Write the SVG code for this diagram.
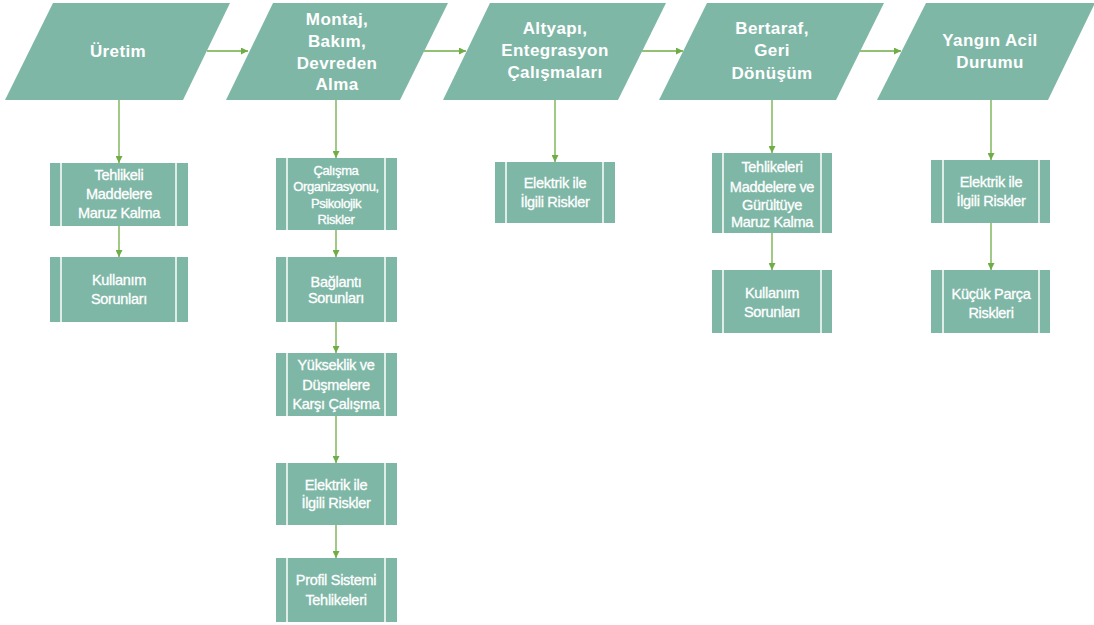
<svg xmlns="http://www.w3.org/2000/svg" width="1094" height="625" viewBox="0 0 1094 625">
<defs>
<style>
.para{fill:#7fb7a7}
.box{fill:#7fb7a7}
.bar{stroke:#ffffff;stroke-width:1.5}
.ht{font-family:"Liberation Sans",Arial,sans-serif;font-weight:bold;font-size:17px;fill:#ffffff;text-anchor:middle;letter-spacing:0.4px}
.bt{font-family:"Liberation Sans",Arial,sans-serif;font-size:14.5px;fill:#ffffff;stroke:#ffffff;stroke-width:0.3;text-anchor:middle;letter-spacing:-0.3px}
.bs{font-size:13px;letter-spacing:-0.4px}
.con{stroke:#6fad46;stroke-width:1.3;fill:none;marker-end:url(#ah)}
</style>
<marker id="ah" viewBox="0 0 10 10" refX="10" refY="5" markerWidth="7" markerHeight="7" markerUnits="userSpaceOnUse" orient="auto">
<path d="M0,0 L10,5 L0,10 Z" fill="#6fad46"/>
</marker>
</defs>
<rect width="1094" height="625" fill="#ffffff"/>
<g id="connectors">
<line class="con" x1="207" y1="51" x2="248" y2="51"/>
<line class="con" x1="424" y1="51" x2="466" y2="51"/>
<line class="con" x1="642" y1="51" x2="683" y2="51"/>
<line class="con" x1="860" y1="51" x2="901" y2="51"/>
<line class="con" x1="119" y1="100" x2="119" y2="163"/>
<line class="con" x1="119" y1="226" x2="119" y2="257"/>
<line class="con" x1="336" y1="100" x2="336" y2="158"/>
<line class="con" x1="336" y1="230" x2="336" y2="257"/>
<line class="con" x1="336" y1="322" x2="336" y2="353"/>
<line class="con" x1="336" y1="416" x2="336" y2="463"/>
<line class="con" x1="336" y1="525" x2="336" y2="558"/>
<line class="con" x1="555" y1="100" x2="555" y2="162"/>
<line class="con" x1="772" y1="100" x2="772" y2="153"/>
<line class="con" x1="772" y1="233" x2="772" y2="270"/>
<line class="con" x1="991" y1="100" x2="991" y2="160"/>
<line class="con" x1="991" y1="223" x2="991" y2="270"/>
</g>
<g id="n-uretim">
<polygon class="para" points="53,3 230,3 183,100 5,100"/>
<text class="ht" x="118" y="57">Üretim</text>
</g>
<g id="n-montaj">
<polygon class="para" points="273,3 448,3 400,100 226,100"/>
<text class="ht" x="337" y="25">Montaj,</text>
<text class="ht" x="337" y="47">Bakım,</text>
<text class="ht" x="337" y="69">Devreden</text>
<text class="ht" x="337" y="90">Alma</text>
</g>
<g id="n-altyapi">
<polygon class="para" points="490,3 666,3 618,100 443,100"/>
<text class="ht" x="555" y="34">Altyapı,</text>
<text class="ht" x="555" y="56">Entegrasyon</text>
<text class="ht" x="555" y="78">Çalışmaları</text>
</g>
<g id="n-bertaraf">
<polygon class="para" points="707,3 884,3 836,100 659,100"/>
<text class="ht" x="772" y="34">Bertaraf,</text>
<text class="ht" x="772" y="56">Geri</text>
<text class="ht" x="772" y="79">Dönüşüm</text>
</g>
<g id="n-yangin">
<polygon class="para" points="926,3 1094,3 1094,5 1048,100 877,100"/>
<text class="ht" x="990" y="46">Yangın Acil</text>
<text class="ht" x="990" y="68">Durumu</text>
</g>
<g id="n-c1b1">
<rect class="box" x="50" y="163" width="138" height="63"/>
<line class="bar" x1="61" y1="163" x2="61" y2="226"/><line class="bar" x1="176" y1="163" x2="176" y2="226"/>
<text class="bt" x="119" y="180">Tehlikeli</text>
<text class="bt" x="119" y="199">Maddelere</text>
<text class="bt" x="119" y="218">Maruz Kalma</text>
</g>
<g id="n-c1b2">
<rect class="box" x="50" y="257" width="138" height="65"/>
<line class="bar" x1="61" y1="257" x2="61" y2="322"/><line class="bar" x1="176" y1="257" x2="176" y2="322"/>
<text class="bt" x="119" y="285">Kullanım</text>
<text class="bt" x="119" y="304">Sorunları</text>
</g>
<g id="n-c2b1">
<rect class="box" x="276" y="158" width="121" height="72"/>
<line class="bar" x1="287" y1="158" x2="287" y2="230"/><line class="bar" x1="385" y1="158" x2="385" y2="230"/>
<text class="bt bs" x="336" y="175">Çalışma</text>
<text class="bt bs" x="336" y="191">Organizasyonu,</text>
<text class="bt bs" x="336" y="208">Psikolojik</text>
<text class="bt bs" x="336" y="224">Riskler</text>
</g>
<g id="n-c2b2">
<rect class="box" x="276" y="257" width="121" height="65"/>
<line class="bar" x1="287" y1="257" x2="287" y2="322"/><line class="bar" x1="385" y1="257" x2="385" y2="322"/>
<text class="bt" x="336" y="287">Bağlantı</text>
<text class="bt" x="336" y="303">Sorunları</text>
</g>
<g id="n-c2b3">
<rect class="box" x="276" y="353" width="121" height="63"/>
<line class="bar" x1="287" y1="353" x2="287" y2="416"/><line class="bar" x1="385" y1="353" x2="385" y2="416"/>
<text class="bt" x="336" y="370">Yükseklik ve</text>
<text class="bt" x="336" y="390">Düşmelere</text>
<text class="bt" x="336" y="409">Karşı Çalışma</text>
</g>
<g id="n-c2b4">
<rect class="box" x="276" y="463" width="121" height="62"/>
<line class="bar" x1="287" y1="463" x2="287" y2="525"/><line class="bar" x1="385" y1="463" x2="385" y2="525"/>
<text class="bt" x="336" y="490">Elektrik ile</text>
<text class="bt" x="336" y="508">İlgili Riskler</text>
</g>
<g id="n-c2b5">
<rect class="box" x="276" y="558" width="121" height="64"/>
<line class="bar" x1="287" y1="558" x2="287" y2="622"/><line class="bar" x1="385" y1="558" x2="385" y2="622"/>
<text class="bt" x="336" y="585">Profil Sistemi</text>
<text class="bt" x="336" y="605">Tehlikeleri</text>
</g>
<g id="n-c3b1">
<rect class="box" x="495" y="162" width="120" height="61"/>
<line class="bar" x1="506" y1="162" x2="506" y2="223"/><line class="bar" x1="603" y1="162" x2="603" y2="223"/>
<text class="bt" x="555" y="188">Elektrik ile</text>
<text class="bt" x="555" y="207">İlgili Riskler</text>
</g>
<g id="n-c4b1">
<rect class="box" x="712" y="153" width="120" height="80"/>
<line class="bar" x1="723" y1="153" x2="723" y2="233"/><line class="bar" x1="821" y1="153" x2="821" y2="233"/>
<text class="bt" x="772" y="172">Tehlikeleri</text>
<text class="bt" x="772" y="192">Maddelere ve</text>
<text class="bt" x="772" y="210">Gürültüye</text>
<text class="bt" x="772" y="227">Maruz Kalma</text>
</g>
<g id="n-c4b2">
<rect class="box" x="712" y="270" width="120" height="63"/>
<line class="bar" x1="723" y1="270" x2="723" y2="333"/><line class="bar" x1="821" y1="270" x2="821" y2="333"/>
<text class="bt" x="772" y="298">Kullanım</text>
<text class="bt" x="772" y="317">Sorunları</text>
</g>
<g id="n-c5b1">
<rect class="box" x="931" y="160" width="119" height="63"/>
<line class="bar" x1="943" y1="160" x2="943" y2="223"/><line class="bar" x1="1039" y1="160" x2="1039" y2="223"/>
<text class="bt" x="991" y="187">Elektrik ile</text>
<text class="bt" x="991" y="206">İlgili Riskler</text>
</g>
<g id="n-c5b2">
<rect class="box" x="931" y="270" width="119" height="63"/>
<line class="bar" x1="943" y1="270" x2="943" y2="333"/><line class="bar" x1="1039" y1="270" x2="1039" y2="333"/>
<text class="bt" x="991" y="299">Küçük Parça</text>
<text class="bt" x="991" y="318">Riskleri</text>
</g>
</svg>
